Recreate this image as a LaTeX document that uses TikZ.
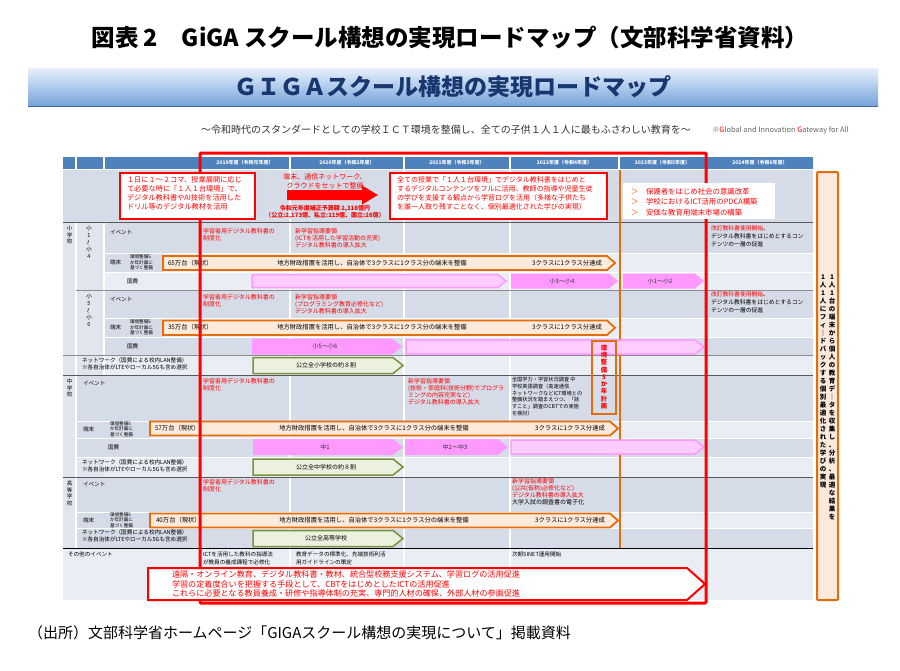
\documentclass[tikz,border=0pt]{standalone}
\usepackage{fontspec}
\setmainfont{Noto Sans CJK JP}
\usepackage{graphicx}
\definecolor{hdr}{RGB}{79,129,189}
\definecolor{rowL}{RGB}{234,238,244}
\definecolor{rowD}{RGB}{213,220,232}
\definecolor{rowM}{RGB}{224,229,238}
\definecolor{org}{RGB}{228,108,10}
\definecolor{orgfill}{RGB}{253,234,218}
\definecolor{pinkS}{RGB}{255,153,255}
\definecolor{pinkL}{RGB}{255,204,255}
\definecolor{grnD}{RGB}{119,147,60}
\definecolor{grnL}{RGB}{235,241,222}
\definecolor{navy}{RGB}{23,55,110}
\definecolor{bannerTop}{RGB}{232,240,251}
\definecolor{bannerBot}{RGB}{118,163,219}
\definecolor{chev}{RGB}{255,80,0}
\newcommand\shp[6]{\path[#1] (#2,#3) -- ({#4-#6},#3) -- (#4,{(#3+#5)/2}) -- ({#4-#6},#5) -- (#2,#5) -- cycle;}
\newcommand\vw{\rotatebox[origin=c]{90}{～}}
\begin{document}
\begin{tikzpicture}[x=1pt,y=-1pt,
  every node/.style={inner sep=0pt,outer sep=0pt},
  tl/.style={anchor=north west,align=left},
  evt/.style={tl,text=red,font=\fontsize{6}{7}\selectfont},
  blk/.style={tl,text=black,font=\fontsize{5.6}{7.6}\selectfont},
  lbl/.style={anchor=west,text=black,font=\fontsize{5.6}{7}\selectfont},
  vlbl/.style={anchor=north,align=center,text=black,font=\fontsize{5.5}{6.6}\selectfont},
  plan/.style={anchor=west,align=left,text=black,font=\fontsize{4.6}{5.4}\selectfont},
  oarr/.style={fill=orgfill,draw=org,line width=1.8pt,line join=miter},
  otxt/.style={text=black,font=\fontsize{6.3}{7}\selectfont},
  parrS/.style={fill=pinkS},
  parrL/.style={fill=pinkL,draw=pinkS,line width=1.5pt},
  ptxt/.style={text=black!80,font=\fontsize{6}{7}\selectfont},
  garr/.style={fill=grnL,draw=grnD,line width=1.5pt},
  gtxt/.style={text=black,font=\fontsize{6}{7}\selectfont},
  wline/.style={white,line width=1.4pt},
  sep/.style={black!65,line width=1pt},
]
\path[use as bounding box,fill=white] (0,0) rectangle (900,670);

% ---------- titles ----------
\node[font=\fontsize{23.5}{28}\selectfont\bfseries] (title) at (450,38) {図表 2　GiGA スクール構想の実現ロードマップ（文部科学省資料）};
\shade[top color=bannerTop,bottom color=bannerBot] (28,68) rectangle (878,106);
\draw[hdr!80!black,line width=0.8pt] (28,106) -- (878,106);
\node[font=\fontsize{23}{27}\selectfont\bfseries,text=navy] (banner) at (453,87) {ＧＩＧＡスクール構想の実現ロードマップ};
\node[font=\fontsize{10}{12}\selectfont,text=black!80] (sub) at (446,130) {～令和時代のスタンダードとしての学校ＩＣＴ環境を整備し、全ての子供１人１人に最もふさわしい教育を～};
\node[anchor=west,font=\fontsize{7.4}{8}\selectfont,text=black!60] (gig) at (712,130) {※\textcolor{red}{G}lobal and \textcolor{red}{I}nnovation \textcolor{red}{G}ateway for All};

% ---------- header ----------
\foreach \a/\b/\t [count=\i] in {63/75/{},77/103/{},105/199/{},201/289/{2019年度（令和元年度）},291/403/{2020年度（令和2年度）},405/509/{2021年度（令和3年度）},511/618/{2022年度（令和4年度）},620/705/{2023年度（令和5年度）},707/813/{2024年度（令和6年度）}}{
  \fill[hdr] (\a,157) rectangle (\b,169);
  \node[text=white,font=\fontsize{5}{6}\selectfont\bfseries] (h\i) at ({(\a+\b)/2},163) {\t};
}

% ---------- body backgrounds ----------
\fill[rowL] (63,170) rectangle (813,600);
\fill[rowD] (63,170) rectangle (813,222);
\fill[rowM] (63,222) rectangle (104,548);
\fill[rowD] (104,222) rectangle (813,253);
\fill[rowD] (104,253) rectangle (163,272);
\fill[rowD] (104,290) rectangle (813,318);
\fill[rowD] (104,318) rectangle (163,337);
\fill[rowD] (104,337) rectangle (813,355);
\fill[rowD] (76,375) rectangle (813,421);
\fill[rowD] (76,421) rectangle (150,438);
\fill[rowD] (76,438) rectangle (813,457);
\fill[rowD] (76,477) rectangle (813,512);
\fill[rowD] (76,512) rectangle (150,528);
\fill[rowD] (76,528) rectangle (813,548);

% grid
\foreach \x in {290,404,510,706}{\draw[wline] (\x,170) -- (\x,600);}
\draw[wline] (76,222) -- (76,548);
\draw[wline] (104,222) -- (104,375);
\foreach \y in {253,272,318,337}{\draw[white,line width=1pt] (104,\y) -- (813,\y);}
\foreach \y in {421,438,457,512,528}{\draw[white,line width=1pt] (76,\y) -- (813,\y);}
\draw[black!45,line width=0.6pt] (76,290) -- (813,290);
\draw[black!45,line width=0.6pt] (63,355) -- (813,355);
\foreach \y in {222,375,477}{\draw[sep] (63,\y) -- (813,\y);}
\draw[black,line width=1pt] (63,548) -- (813,548);

% orange year line
\draw[org,line width=2pt] (620,170) -- (620,548);

% ---------- left labels ----------
\node[vlbl] (vs1) at (69.5,226) {小\\学\\校};
\node[vlbl,font=\fontsize{5.5}{7}\selectfont] (vs2) at (89,226) {小\\1\\\vw\\小\\4};
\node[vlbl,font=\fontsize{5.5}{7}\selectfont] (vs3) at (89,294) {小\\5\\\vw\\小\\6};
\node[vlbl] (vs4) at (69.5,379) {中\\学\\校};
\node[vlbl] (vs5) at (69.5,481) {高\\等\\学\\校};

% ===== 小1～小4 =====
\node[lbl] (l1) at (110,232) {イベント};
\node[lbl] (l2) at (110,262.5) {端末};
\node[plan] (l3) at (130,262.5) {環境整備5\\か年計画に\\基づく整備};
\node[lbl] (l4) at (127,281) {国費};
\node[evt] (e1) at (203,228) {学習者用デジタル教科書の\\制度化};
\node[evt] (e2) at (295,228) {新学習指導要領\\(ICTを活用した学習活動の充実)\\デジタル教科書の導入拡大};
\node[tl,font=\fontsize{5.8}{7.6}\selectfont] (e3) at (711,226) {\textcolor{red}{改訂教科書使用開始}、\\デジタル教科書をはじめとするコン\\テンツの一層の促進};
\shp{oarr}{163}{256}{615}{270}{8}
\node[otxt,anchor=west] (a1) at (168,263) {65万台（現状）};
\node[otxt] (a2) at (372,263) {地方財政措置を活用し、自治体で3クラスに1クラス分の端末を整備};
\node[otxt] (a3) at (567,263) {3クラスに1クラス分達成};
\shp{parrL}{252}{274.5}{506}{287.5}{8}
\shp{parrS}{511}{273.5}{618}{288.5}{9}
\shp{parrS}{623}{273.5}{704}{288.5}{9}
\node[ptxt] (p1) at (562,281) {小3～小4};
\node[ptxt] (p2) at (660,281) {小1～小2};

% ===== 小5～小6 =====
\node[lbl] (l5) at (110,299) {イベント};
\node[lbl] (l6) at (110,327.5) {端末};
\node[plan] (l7) at (130,327.5) {環境整備5\\か年計画に\\基づく整備};
\node[lbl] (l8) at (127,346) {国費};
\node[evt] (e4) at (203,294) {学習者用デジタル教科書の\\制度化};
\node[evt] (e5) at (295,294) {新学習指導要領\\(プログラミング教育必修化など)\\デジタル教科書の導入拡大};
\node[tl,font=\fontsize{5.8}{7.6}\selectfont] (e6) at (711,292) {\textcolor{red}{改訂教科書使用開始}、\\デジタル教科書をはじめとするコン\\テンツの一層の促進};
\shp{oarr}{163}{320.5}{615}{335}{8}
\node[otxt,anchor=west] (a4) at (168,327.5) {35万台（現状）};
\node[otxt] (a5) at (372,327.5) {地方財政措置を活用し、自治体で3クラスに1クラス分の端末を整備};
\node[otxt] (a6) at (567,327.5) {3クラスに1クラス分達成};
\shp{parrS}{252}{338.5}{402}{354.5}{10}
\shp{parrL}{406}{340}{704}{354}{9}
\node[ptxt] (p3) at (325,346.5) {小5～小6};
\node[tl,font=\fontsize{5.6}{7}\selectfont] (n1) at (82,358) {ネットワーク（国費による校内LAN整備）\\※各自治体がLTEやローカル5Gも含め選択};
\shp{garr}{253}{357.5}{403}{373.5}{10}
\node[gtxt] (g1) at (326,365.5) {公立全小学校の約８割};

% ===== 中学校 =====
\node[lbl] (m1) at (83,383) {イベント};
\node[evt] (e7) at (203,378) {学習者用デジタル教科書の\\制度化};
\node[evt] (e8) at (408,378) {新学習指導要領\\(技術・家庭科(技術分野)でプログラ\\ミングの内容充実など)\\デジタル教科書の導入拡大};
\node[tl,font=\fontsize{5.2}{6.8}\selectfont] (e9) at (512,377) {全国学力・学習状況調査 中\\学校英語調査（高速通信\\ネットワークなどICT環境との\\整備状況を踏まえつつ、「話\\すこと」調査のCBTでの実施\\を検討）};
\node[lbl] (m2) at (83,429) {端末};
\node[plan] (m3) at (110,429) {環境整備5\\か年計画に\\基づく整備};
\shp{oarr}{150}{421.5}{618}{435.5}{8}
\node[otxt,anchor=west] (a7) at (155,428.5) {57万台（現状）};
\node[otxt] (a8) at (374,428.5) {地方財政措置を活用し、自治体で3クラスに1クラス分の端末を整備};
\node[otxt] (a9) at (570,428.5) {3クラスに1クラス分達成};
\node[lbl] (m4) at (108,447) {国費};
\shp{parrS}{253}{439}{403}{455}{10}
\shp{parrS}{405}{439}{508}{455}{10}
\shp{parrL}{511}{440}{704}{454}{9}
\node[ptxt] (p4) at (325,447) {中1};
\node[ptxt] (p5) at (455,447) {中2～中3};
\node[tl,font=\fontsize{5.6}{7}\selectfont] (n2) at (82,459.5) {ネットワーク（国費による校内LAN整備）\\※各自治体がLTEやローカル5Gも含め選択};
\shp{garr}{253}{459}{403}{475}{10}
\node[gtxt] (g2) at (326,467) {公立全中学校の約８割};

% ===== 高等学校 =====
\node[lbl] (k1) at (83,484) {イベント};
\node[evt] (e10) at (203,479) {学習者用デジタル教科書の\\制度化};
\node[evt] (e11) at (512,478) {新学習指導要領\\(公共(仮称)必修化など)\\デジタル教科書の導入拡大\\\textcolor{black}{大学入試の調査書の電子化}};
\node[lbl] (k2) at (83,520) {端末};
\node[plan] (k3) at (110,520) {環境整備5\\か年計画に\\基づく整備};
\shp{oarr}{150}{513.5}{618}{527.5}{8}
\node[otxt,anchor=west] (a10) at (156,520.5) {40万台（現状）};
\node[otxt] (a11) at (374,520.5) {地方財政措置を活用し、自治体で3クラスに1クラス分の端末を整備};
\node[otxt] (a12) at (570,520.5) {3クラスに1クラス分達成};
\node[tl,font=\fontsize{5.6}{7}\selectfont] (n3) at (82,530) {ネットワーク（国費による校内LAN整備）\\※各自治体がLTEやローカル5Gも含め選択};
\shp{garr}{253}{530.5}{403}{546.5}{10}
\node[gtxt] (g3) at (326,538.5) {公立全高等学校};

% ===== その他 =====
\node[tl,font=\fontsize{5.6}{7}\selectfont] (o1) at (68,552) {その他のイベント};
\node[blk] (o2) at (203,552) {ICTを活用した教科の指導法\\が教員の養成課程で必修化};
\node[blk] (o3) at (296,552) {教育データの標準化、先端技術利活\\用ガイドラインの策定};
\node[blk] (o4) at (512,552) {次期SINET運用開始};

% 5-year plan box
\draw[org,line width=1.3pt] (592,341) rectangle (616,414);
\node[anchor=north,align=center,text=red,font=\fontsize{6.3}{7.3}\selectfont\bfseries] (plan5) at (604,345) {環\\境\\整\\備\\5\\か\\年\\計\\画};

% ---------- big red frame ----------
\draw[red,line width=3pt,rounded corners=1pt] (200,153) rectangle (706,603);

% top row boxes
\draw[red,line width=2pt,fill=white] (120,173) rectangle (255,219);
\node[tl,text=red,font=\fontsize{7.2}{9}\selectfont] (t1) at (127,176.5) {１日に１～２コマ、授業展開に応じ\\て必要な時に「１人１台環境」で、\\デジタル教科書やAI技術を活用した\\ドリル等のデジタル教材を活用};
\node[align=center,text=red,font=\fontsize{7}{9}\selectfont] (t2) at (325,181.5) {端末、通信ネットワーク、\\クラウドをセットで整備};
\fill[red] (287,190) -- (362,190) -- (362,185.5) -- (378,195) -- (362,204.5) -- (362,200) -- (287,200) -- cycle;
\node[text=red,font=\fontsize{6}{7}\selectfont\bfseries] (t3) at (325,208.5) {令和元年度補正予算額 2,318億円};
\node[text=red,font=\fontsize{6}{7}\selectfont\bfseries] (t4) at (325,216) {（公立:2,173億、私立:119億、国立:26億）};
\draw[red,line width=2pt,fill=white] (390,173) rectangle (607,219);
\node[tl,text=red,font=\fontsize{7}{8.8}\selectfont] (t5) at (397,177) {全ての授業で「１人１台環境」でデジタル教科書をはじめと\\するデジタルコンテンツをフルに活用、教師の指導や児童生徒\\の学びを支援する観点から学習ログを活用（多様な子供たち\\を誰一人取り残すことなく、個別最適化された学びの実現）};
\fill[white] (623,183) rectangle (775,219);
\foreach \yy/\tt [count=\j] in {192/保護者をはじめ社会の意識改革,202/学校におけるICT活用のPDCA構築,212.5/安価な教育用端末市場の構築}{
  \node[anchor=west,text=chev,font=\fontsize{7.4}{8}\selectfont] (c\j) at (631,\yy) {＞};
  \node[anchor=west,text=red,font=\fontsize{7.4}{8}\selectfont] (d\j) at (646,\yy) {\tt};
}

% bottom red arrow
\path[fill=white,draw=red,line width=2pt,line join=miter] (148,568) -- (687,568) -- (705,584) -- (687,600) -- (148,600) -- cycle;
\node[tl,text=red,font=\fontsize{8.1}{9.2}\selectfont] (b1) at (172,571) {遠隔・オンライン教育、デジタル教科書・教材、統合型校務支援システム、学習ログの活用促進\\学習の定着度合いを把握する手段として、CBTをはじめとしたICTの活用促進\\これらに必要となる教員養成・研修や指導体制の充実、専門的人材の確保、外部人材の参画促進};

% right vertical box
\draw[org,line width=2pt,fill=orgfill,rounded corners=1pt] (817,172) rectangle (838,600);
\node[anchor=north,align=center,font=\fontsize{6.5}{8}\selectfont\bfseries] (v1) at (832,275) {1\\人\\1\\台\\の\\端\\末\\か\\ら\\個\\人\\の\\教\\育\\デ\\｜\\タ\\を\\収\\集\\し\\、\\分\\析\\、\\最\\適\\な\\結\\果\\を};
\node[anchor=north,align=center,font=\fontsize{6.5}{8}\selectfont\bfseries] (v2) at (823,275) {1\\人\\1\\人\\に\\フ\\ィ\\｜\\ド\\バ\\ッ\\ク\\す\\る\\個\\別\\最\\適\\化\\さ\\れ\\た\\学\\び\\の\\実\\現};

% source
\node[anchor=west,font=\fontsize{15}{18}\selectfont] (src) at (28,633) {（出所）文部科学省ホームページ「GIGAスクール構想の実現について」掲載資料};
\end{tikzpicture}
\end{document}
